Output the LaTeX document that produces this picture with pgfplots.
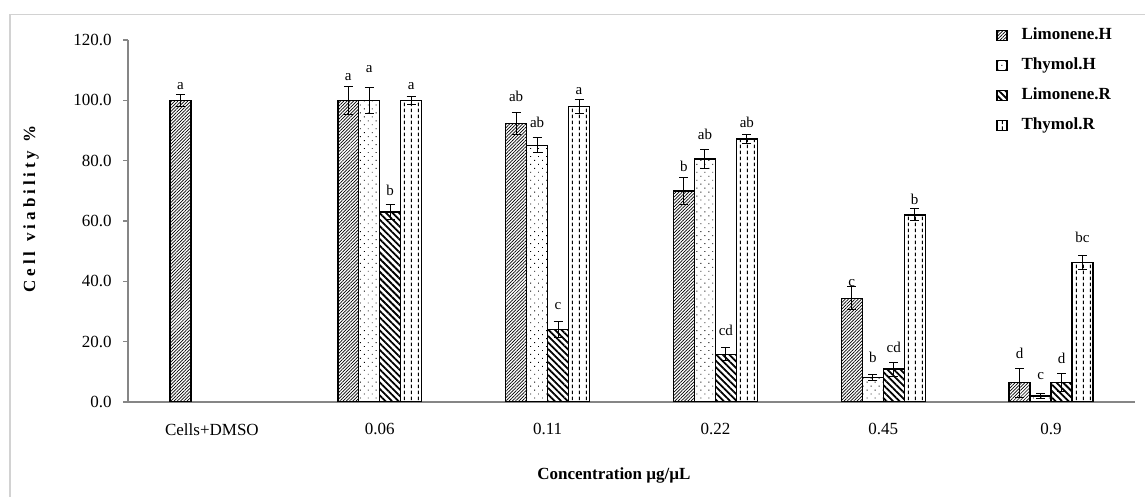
\documentclass[border=0pt]{standalone}
\usepackage{pgfplots}
\pgfplotsset{compat=1.18}
\usepackage{pgfplotstable}
\usetikzlibrary{patterns,patterns.meta}
\usepackage{fontspec}
\setmainfont{Liberation Serif}
\newfontfamily\spacedfont[LetterSpace=23]{Liberation Serif}
\definecolor{axisgray}{RGB}{134,134,134}
\definecolor{framegray}{RGB}{210,210,210}

\pgfdeclarepatternformonly{vdashes}{\pgfpointorigin}{\pgfpoint{3.4pt}{3pt}}{\pgfpoint{3.4pt}{3pt}}{%
  \pgfsetlinewidth{0.5pt}%
  \pgfpathmoveto{\pgfpoint{1.7pt}{0.5pt}}%
  \pgfpathlineto{\pgfpoint{1.7pt}{2.5pt}}%
  \pgfusepath{stroke}}

\pgfplotstableread{
x y ey ly lab
0 100 2.0 103.6 a
1 100 4.7 106.6 a
2 92.4 3.7 99.5 ab
3 70.0 4.5 76.3 b
4 34.4 3.8 38.2 c
5 6.4 4.8 14.3 d
}\LH
\pgfplotstableread{
x y ey ly lab
1 100 4.4 109.2 a
2 85.1 2.5 90.9 ab
3 80.5 3.2 87.1 ab
4 8.1 0.9 13.2 b
5 2.0 0.9 7.3 c
}\TH
\pgfplotstableread{
x y ey ly lab
1 63.0 2.6 68.3 b
2 24.1 2.7 30.7 c
3 15.8 2.2 21.9 cd
4 10.9 2.3 16.5 cd
5 6.4 3.0 12.8 d
}\LR
\pgfplotstableread{
x y ey ly lab
1 100 1.4 103.6 a
2 98.0 2.3 101.8 a
3 87.2 1.5 91.0 ab
4 62.0 2.0 65.6 b
5 46.2 2.4 52.8 bc
}\TR

\pgfplotsset{
  mybar/.style={bar shift=#1, draw=black, line width=0.7pt,
    legend image code/.code={\draw[##1,line width=0.6pt] (0pt,-2.5pt) rectangle (5pt,2.5pt);},
    error bars/y dir=both, error bars/y explicit,
    error bars/error bar style={black, line width=0.5pt, solid},
    error bars/error mark options={rotate=90, mark size=2.25pt, line width=0.5pt, black, solid}},
  mylab/.style={bar shift=0pt, draw=none, fill=none, forget plot, nodes near coords,
    point meta=explicit symbolic,
    nodes near coords style={anchor=base, inner sep=0pt, black, font=\fontsize{7.5}{8}\selectfont}},
}

\begin{document}
\begin{tikzpicture}
\useasboundingbox (0,0) rectangle (572.5pt,248.5pt);
\draw[framegray, line width=0.75pt] (5pt,-2pt) -- (5pt,241.2pt) -- (576pt,241.2pt);
\begin{axis}[
  at={(64pt,47.5pt)}, anchor=south west,
  scale only axis, width=503.5pt, height=181pt,
  ybar, bar width=10.49pt,
  xmin=-0.5, xmax=5.5, ymin=0, ymax=120,
  axis lines*=left,
  axis line style={axisgray, line width=0.6pt},
  xtick={0,...,5},
  xticklabels={Cells+DMSO,0.06,0.11,0.22,0.45,0.9},
  xtick style={draw=none},
  xticklabel shift=4.7pt,
  ytick={0,20,...,120},
  ytick style={axisgray, line width=0.6pt},
  tick align=outside, major tick length=2.5pt,
  yticklabel shift=2.2pt,
  /pgf/number format/assume math mode=true,
  y tick label style={/pgf/number format/fixed, /pgf/number format/fixed zerofill, /pgf/number format/precision=1},
  tick label style={font=\fontsize{8.5}{10}\selectfont},
  xlabel={Concentration µg/µL},
  xlabel style={at={(axis description cs:0.4826,-0.2017)}, anchor=center, font=\bfseries\fontsize{8.5}{10}\selectfont},
  ylabel={\spacedfont\bfseries Cell\hspace{1pt} viability \%},
  ylabel style={at={(axis description cs:-0.0963,0.533)}, anchor=center, font=\fontsize{8.5}{10}\selectfont},
  legend style={at={(axis description cs:0.862,1.04)}, anchor=north west, draw=none, fill=none,
    font=\bfseries\fontsize{8.5}{10}\selectfont, row sep=5.5pt, inner sep=0pt,
    nodes={inner sep=1pt, text height=6pt, text depth=1.5pt},
    /tikz/every odd column/.append style={column sep=6pt}},
  legend cell align=left,
]
\addplot[mybar=-15.73pt, pattern={Lines[angle=45,distance=1.15pt,line width=0.35pt]}] table[x=x,y=y,y error=ey]{\LH};
\addlegendentry{Limonene.H}
\addplot[mybar=-5.24pt, pattern={Dots[distance=2.8pt,angle=45,radius=0.32pt]}] table[x=x,y=y,y error=ey]{\TH};
\addlegendentry{Thymol.H}
\addplot[mybar=5.24pt, pattern={Lines[angle=-45,distance=2.3pt,line width=0.9pt]}] table[x=x,y=y,y error=ey]{\LR};
\addlegendentry{Limonene.R}
\addplot[mybar=15.73pt, pattern=vdashes] table[x=x,y=y,y error=ey]{\TR};
\addlegendentry{Thymol.R}

\addplot[mylab] table[x expr=\thisrow{x}-0.1875, y=ly, meta=lab]{\LH};
\addplot[mylab] table[x expr=\thisrow{x}-0.0625, y=ly, meta=lab]{\TH};
\addplot[mylab] table[x expr=\thisrow{x}+0.0625, y=ly, meta=lab]{\LR};
\addplot[mylab] table[x expr=\thisrow{x}+0.1875, y=ly, meta=lab]{\TR};
\end{axis}
\end{tikzpicture}
\end{document}
